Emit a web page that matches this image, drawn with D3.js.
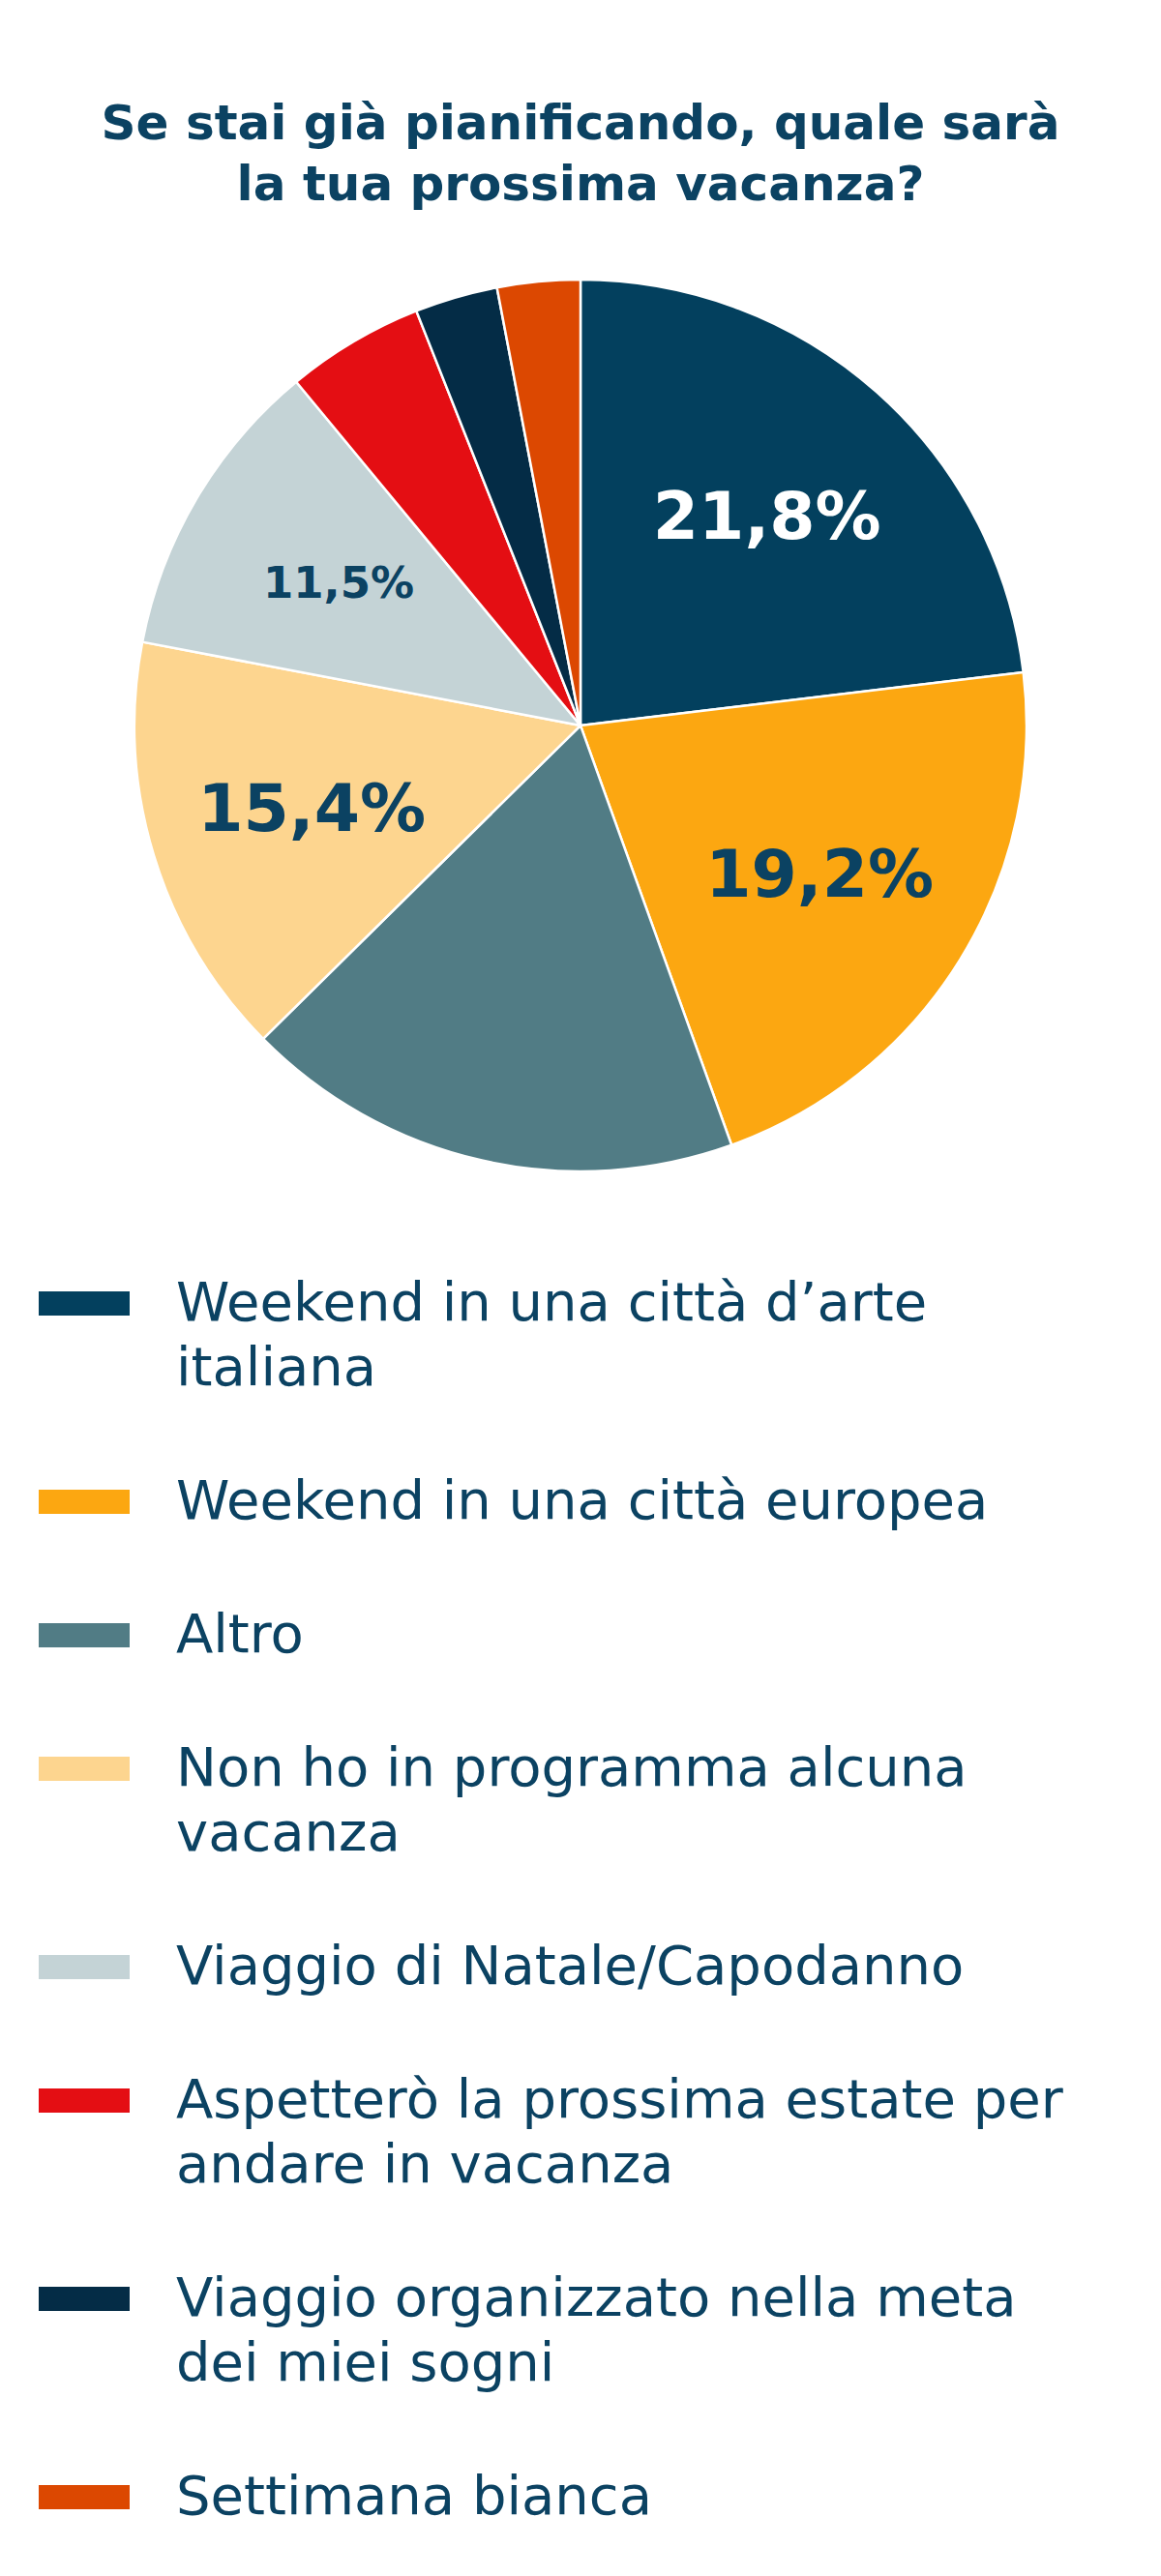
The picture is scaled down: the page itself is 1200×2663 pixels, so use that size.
<!DOCTYPE html>
<html>
<head>
<meta charset="utf-8">
<script src="https://cdn.jsdelivr.net/npm/d3@7/dist/d3.min.js"></script>
<style>
  body { margin: 0; background: #fff; }
  svg { display: block; }
</style>
</head>
<body>
<div id="chart"></div>
<script>
// categories, in the order they are drawn (clockwise from 12 o'clock)
var categories = [
    "Weekend in una città d’arte\nitaliana",
    "Weekend in una città europea",
    "Altro",
    "Non ho in programma alcuna\nvacanza",
    "Viaggio di Natale/Capodanno",
    "Aspetterò la prossima estate per\nandare in vacanza",
    "Viaggio organizzato nella meta\ndei miei sogni",
    "Settimana bianca"
];

// slice sizes as drawn in the picture (%)
var shares = [23.1, 21.4, 18.1, 15.4, 11.0, 5.0, 3.0, 3.0];

// percentages printed on the slices (empty = no label)
var sliceLabels = ["21,8%", "19,2%", "", "15,4%", "11,5%", "", "", ""];

var titleLines = ["Se stai già pianificando, quale sarà", "la tua prossima vacanza?"];

var colorList = ['#03405e', '#fca711', '#517c85', '#fdd58f', '#c4d3d6', '#e40e13', '#042c46', '#dc4801'];
var labelColors = ['#ffffff', '#0b4262', '#0b4262', '#0b4262', '#0b4262', '#0b4262', '#0b4262', '#0b4262'];

var svgWidth = 1200;
var svgHeight = 2663;
var ink = '#0b4262';

var svg = d3.select("#chart")
    .append("svg")
    .attr("width", svgWidth)
    .attr("height", svgHeight);

// title
svg.append('g')
    .selectAll('text')
    .data(titleLines)
    .enter()
    .append('text')
    .attr('x', svgWidth / 2)
    .attr('y', (d, i) => 144 + i * 63)
    .attr('text-anchor', 'middle')
    .attr('font-family', '"DejaVu Sans", sans-serif')
    .attr('font-weight', 'bold')
    .attr('font-size', 50)
    .attr('fill', ink)
    .text(d => d);

// pie
var radius = 461;
var pieGroup = svg.append('g')
    .attr("transform", "translate(600,750)");

var color = d3.scaleOrdinal()
    .domain(d3.range(categories.length))
    .range(colorList);

var pie = d3.pie().sort(null).value(d => d);
var arcs = pie(shares);

var arc = d3.arc().innerRadius(0).outerRadius(radius);
var labelArc = d3.arc().innerRadius(radius * 0.63).outerRadius(radius * 0.63);

pieGroup.selectAll('path')
    .data(arcs)
    .enter()
    .append('path')
    .attr('d', arc)
    .attr('fill', (d, i) => color(i))
    .attr('stroke', '#ffffff')
    .attr('stroke-width', 2.5)
    .attr('stroke-linejoin', 'round');

pieGroup.selectAll('.sliceLabel')
    .data(arcs.filter((d, i) => sliceLabels[i] !== ""))
    .enter()
    .append('text')
    .classed('sliceLabel', true)
    .attr('transform', d => "translate(" + labelArc.centroid(d) + ")")
    .attr('text-anchor', 'middle')
    .attr('dy', '0.36em')
    .attr('font-family', '"DejaVu Sans", sans-serif')
    .attr('font-weight', 'bold')
    .attr('font-size', d => sliceLabels[d.index] === "11,5%" ? 45 : 68)
    .attr('fill', d => labelColors[d.index])
    .text(d => sliceLabels[d.index]);

// legend
var legend = svg.append('g').classed('legend', true);
var lineGap = 67;
var itemGap = 138;
var baseY = [];
var yy = 1365;
categories.forEach(function(c) {
    baseY.push(yy);
    yy += itemGap + lineGap * (c.split("\n").length - 1);
});

legend.selectAll('.colorLegend')
    .data(categories)
    .enter()
    .append('rect')
    .classed('colorLegend', true)
    .attr('x', 40)
    .attr('y', (d, i) => baseY[i] - 30)
    .attr('width', 94)
    .attr('height', 25)
    .attr('fill', (d, i) => color(i));

var items = legend.selectAll('.textLegend')
    .data(categories)
    .enter()
    .append('text')
    .classed('textLegend', true)
    .attr('x', 182)
    .attr('y', (d, i) => baseY[i])
    .attr('font-family', '"DejaVu Sans", sans-serif')
    .attr('font-size', 56)
    .attr('fill', ink);

items.selectAll('tspan')
    .data(d => d.split("\n"))
    .enter()
    .append('tspan')
    .attr('x', 182)
    .attr('dy', (d, i) => i === 0 ? 0 : lineGap)
    .text(d => d);
</script>
</body>
</html>
